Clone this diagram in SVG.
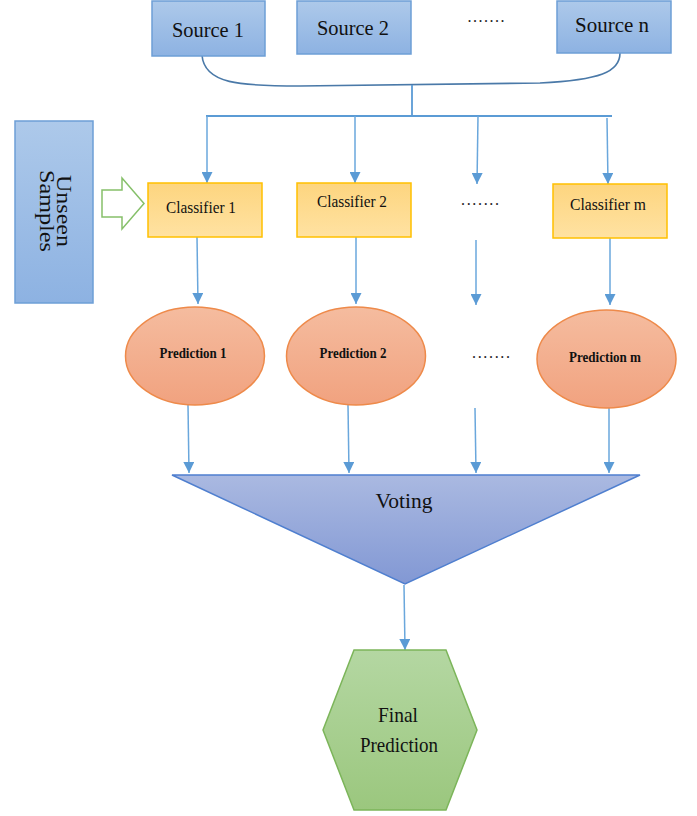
<svg xmlns="http://www.w3.org/2000/svg" width="697" height="816" viewBox="0 0 697 816">
<defs>
<linearGradient id="gBlue" x1="0" y1="0" x2="0" y2="1"><stop offset="0" stop-color="#adc9ea"/><stop offset="1" stop-color="#8db2e2"/></linearGradient>
<linearGradient id="gYel" x1="0" y1="0" x2="0" y2="1"><stop offset="0" stop-color="#fdd57f"/><stop offset="1" stop-color="#ffe2a2"/></linearGradient>
<linearGradient id="gOr" x1="0" y1="0" x2="0" y2="1"><stop offset="0" stop-color="#f5bc9f"/><stop offset="1" stop-color="#f1a27f"/></linearGradient>
<linearGradient id="gVote" x1="0" y1="0" x2="0" y2="1"><stop offset="0" stop-color="#aab9e1"/><stop offset="1" stop-color="#8298d4"/></linearGradient>
<linearGradient id="gGreen" x1="0" y1="0" x2="0" y2="1"><stop offset="0" stop-color="#b4d7a2"/><stop offset="1" stop-color="#9bc77e"/></linearGradient>
<marker id="ah" markerUnits="userSpaceOnUse" markerWidth="11" markerHeight="11" refX="10" refY="5" orient="auto" viewBox="0 0 10 10"><path d="M0,0 L10,5 L0,10 z" fill="#5b9bd5"/></marker>
<style>
.src{fill:url(#gBlue);stroke:#6d9fd6;stroke-width:1.5}
.cls{fill:url(#gYel);stroke:#ffc000;stroke-width:1.5}
.pred{fill:url(#gOr);stroke:#ee8a4a;stroke-width:1.5}
.t{fill:#111;text-anchor:middle}
.tb{fill:#111;text-anchor:middle;font-weight:bold}
.ln{stroke:#5b9bd5;stroke-width:1.8;fill:none}
.ar{stroke:#6aa7dc;stroke-width:1.5;fill:none;marker-end:url(#ah)}
.dots{fill:#222;text-anchor:middle}
</style>
</defs>

<g id="connectors">
<path d="M202,55 C204,84 240,86 300,86 L540,83 C600,80 620,72 620,53" fill="none" stroke="#4a79a8" stroke-width="1.6"/>
<line class="ln" x1="412" y1="85" x2="412" y2="117"/>
<line class="ln" x1="206" y1="116" x2="612" y2="116"/>
<line class="ar" x1="207" y1="116" x2="207" y2="183"/>
<line class="ar" x1="355" y1="116" x2="355" y2="183"/>
<line class="ar" x1="478" y1="116" x2="477" y2="184"/>
<line class="ar" x1="607" y1="118" x2="608" y2="184"/>
<line class="ar" x1="197" y1="237" x2="198" y2="304"/>
<line class="ar" x1="356" y1="237" x2="356" y2="304"/>
<line class="ar" x1="476" y1="240" x2="476" y2="305"/>
<line class="ar" x1="610" y1="238" x2="610" y2="305"/>
<line class="ar" x1="188" y1="405" x2="189" y2="473"/>
<line class="ar" x1="348" y1="405" x2="349" y2="473"/>
<line class="ar" x1="475" y1="408" x2="476" y2="473"/>
<line class="ar" x1="609" y1="408" x2="609" y2="473"/>
<line class="ar" x1="404" y1="585" x2="405" y2="650"/>
<polygon points="102,190 122,190 122,178 144,203.5 122,229 122,217 102,217" fill="#fff" stroke="#86c06a" stroke-width="1.5"/>
</g>

<g font-family="'Liberation Serif', 'Times New Roman', serif">
<g id="source1"><rect class="src" x="152" y="1" width="113" height="55"/><text class="t" x="208" y="37" font-size="21" textLength="72" lengthAdjust="spacingAndGlyphs">Source 1</text></g>
<g id="source2"><rect class="src" x="297" y="1" width="114" height="53"/><text class="t" x="353" y="35" font-size="21" textLength="72" lengthAdjust="spacingAndGlyphs">Source 2</text></g>
<text class="dots" x="486" y="22" font-size="16" textLength="37" lengthAdjust="spacing">.......</text>
<g id="sourcen"><rect class="src" x="557" y="1" width="114" height="52"/><text class="t" x="612" y="32" font-size="21" textLength="74" lengthAdjust="spacingAndGlyphs">Source n</text></g>

<g id="unseen"><rect class="src" x="15" y="121" width="78" height="182"/>
<text class="t" font-size="21" transform="translate(54,211) rotate(90)"><tspan x="0" y="-3" textLength="72" lengthAdjust="spacingAndGlyphs">Unseen</tspan><tspan x="0" y="14" textLength="82" lengthAdjust="spacingAndGlyphs">Samples</tspan></text></g>

<g id="classifier1"><rect class="cls" x="148" y="183" width="114" height="54"/><text class="t" x="201" y="213" font-size="17" textLength="70" lengthAdjust="spacingAndGlyphs">Classifier 1</text></g>
<g id="classifier2"><rect class="cls" x="297" y="183" width="114" height="54"/><text class="t" x="352" y="207" font-size="17" textLength="70" lengthAdjust="spacingAndGlyphs">Classifier 2</text></g>
<text class="dots" x="480" y="205" font-size="16" textLength="38" lengthAdjust="spacing">.......</text>
<g id="classifierm"><rect class="cls" x="553" y="184" width="114" height="54"/><text class="t" x="608" y="210" font-size="17" textLength="76" lengthAdjust="spacingAndGlyphs">Classifier m</text></g>

<g id="prediction1"><ellipse class="pred" cx="195" cy="356" rx="69.5" ry="49"/><text class="tb" x="193" y="358" font-size="15" textLength="67" lengthAdjust="spacingAndGlyphs">Prediction 1</text></g>
<g id="prediction2"><ellipse class="pred" cx="356" cy="356" rx="69.5" ry="49"/><text class="tb" x="353" y="358" font-size="15" textLength="67" lengthAdjust="spacingAndGlyphs">Prediction 2</text></g>
<text class="dots" x="491" y="358" font-size="16" textLength="38" lengthAdjust="spacing">.......</text>
<g id="predictionm"><ellipse class="pred" cx="606.5" cy="359" rx="69.5" ry="49"/><text class="tb" x="605" y="362" font-size="15" textLength="72" lengthAdjust="spacingAndGlyphs">Prediction m</text></g>

<g id="voting"><polygon points="172,475 640,475 405,584" fill="url(#gVote)" stroke="#4f7fcf" stroke-width="1.5"/><text class="t" x="404" y="508" font-size="22" textLength="57" lengthAdjust="spacingAndGlyphs">Voting</text></g>

<g id="final"><polygon points="354,650 446,650 477,730 446,810 354,810 323,730" fill="url(#gGreen)" stroke="#7cb55a" stroke-width="1.5"/>
<text class="t" x="398" y="722" font-size="21" textLength="40" lengthAdjust="spacingAndGlyphs">Final</text>
<text class="t" x="399" y="752" font-size="21" textLength="78" lengthAdjust="spacingAndGlyphs">Prediction</text></g>
</g>
</svg>
